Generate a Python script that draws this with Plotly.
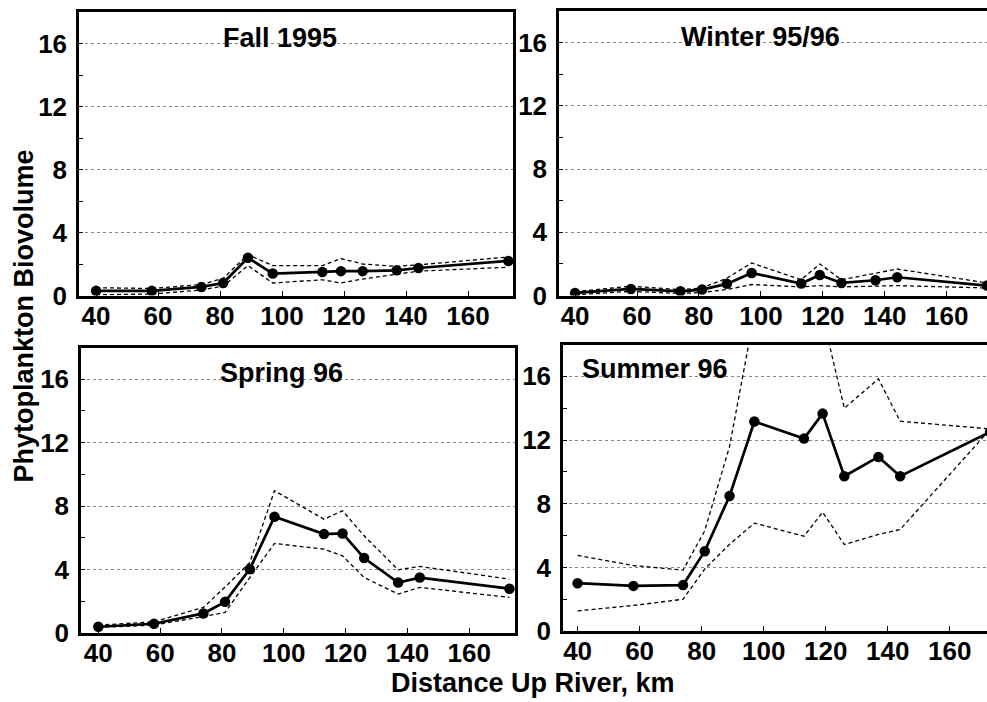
import plotly.graph_objects as go

# ---- data ----
stations = [40, 58, 74, 81, 89, 97, 113, 119, 126, 137, 144, 173]

fall_mean  = [0.30, 0.30, 0.55, 0.80, 2.40, 1.40, 1.50, 1.55, 1.55, 1.60, 1.75, 2.20]
fall_upper = [0.50, 0.45, 0.70, 1.10, 2.60, 1.90, 1.90, 2.35, 2.00, 1.85, 1.95, 2.45]
fall_lower = [0.05, 0.10, 0.35, 0.60, 1.90, 0.80, 1.00, 0.80, 1.05, 1.35, 1.55, 1.80]

winter_mean  = [0.17, 0.42, 0.27, 0.38, 0.74, 1.43, 0.76, 1.30, 0.80, 0.97, 1.16, 0.63]
winter_upper = [0.25, 0.59, 0.38, 0.48, 1.10, 2.06, 1.00, 2.00, 1.00, 1.39, 1.68, 0.80]
winter_lower = [0.05, 0.27, 0.13, 0.20, 0.38, 0.70, 0.55, 0.63, 0.55, 0.59, 0.63, 0.48]

spring_mean  = [0.40, 0.59, 1.24, 1.97, 4.03, 7.33, 6.24, 6.28, 4.73, 3.19, 3.50, 2.80]
spring_upper = [0.50, 0.71, 1.62, 2.90, 4.45, 8.97, 7.18, 7.71, 6.13, 3.99, 4.20, 3.40]
spring_lower = [0.36, 0.50, 1.05, 1.30, 3.50, 5.65, 5.29, 4.87, 3.50, 2.46, 2.88, 2.25]

summer_mean  = [3.01, 2.84, 2.89, 5.02, 8.49, 13.16, 12.09, 13.66, 9.73, 10.94, 9.73, 12.51]
summer_upper = [4.75, 4.12, 3.83, 6.30, 11.60, 19.90, 19.60, 19.80, 14.00, 15.84, 13.18, 12.70]
summer_lower = [1.27, 1.61, 2.00, 3.90, 5.45, 6.78, 5.96, 7.47, 5.44, 6.07, 6.38, 12.66]

titles = ["Fall 1995", "Winter 95/96", "Spring 96", "Summer 96"]
x_tick_vals = [40, 60, 80, 100, 120, 140, 160]
y_tick_vals = [0, 4, 8, 12, 16]

W = 987
H_REF = 702          # reference picture height (targets measured in it)
H = 716              # figure height
FONT = "Liberation Sans, Arial, Helvetica, sans-serif"

def px(x):
    return x / W

def py(y):
    return 1 - y / H_REF

panels = [
    ((fall_mean, fall_upper, fall_lower), (79, 513), (12, 296), (34.5, 174.5), (280, 38), True),
    ((winter_mean, winter_upper, winter_lower), (559, 987), (11, 296), (34.8, 173.0), (760, 37), False),
    ((spring_mean, spring_upper, spring_lower), (81, 515), (348, 634), (34.4, 174.8), (281, 374), True),
    ((summer_mean, summer_upper, summer_lower), (563, 987), (345, 632), (35.3, 172.0), (655, 370), False),
]

fig = go.Figure()
annotations = []
layout_axes = {}

for i, (series, xd, yd, xr, tpos, left) in enumerate(panels):
    n = "" if i == 0 else str(i + 1)
    xa, ya = "x" + n, "y" + n
    mean, upper, lower = series
    for s in (upper, lower):
        fig.add_trace(go.Scatter(x=stations, y=s, mode="lines", xaxis=xa, yaxis=ya,
                                 line=dict(color="black", width=1.3, dash="4px,3px"),
                                 showlegend=False, hoverinfo="skip"))
    fig.add_trace(go.Scatter(x=stations, y=mean, mode="lines+markers", xaxis=xa, yaxis=ya,
                             line=dict(color="black", width=2.7),
                             marker=dict(color="black", size=10.5),
                             showlegend=False))
    layout_axes["xaxis" + n] = dict(
        domain=[px(xd[0]), px(xd[1])], range=list(xr), anchor=ya,
        tickmode="array", tickvals=x_tick_vals, ticktext=[str(v) for v in x_tick_vals],
        ticks="inside", ticklen=5, tickwidth=1.2, tickcolor="black",
        showline=True, linecolor="black", linewidth=2.5, mirror=True,
        showgrid=False, zeroline=False, ticklabelstandoff=-5,
        tickfont=dict(family=FONT, size=26, color="black", weight="bold"),
    )
    layout_axes["yaxis" + n] = dict(
        domain=[py(yd[1]), py(yd[0])], range=[0, 18], anchor=xa,
        tickmode="array", tickvals=y_tick_vals, ticktext=[str(v) for v in y_tick_vals],
        ticks="inside", ticklen=4, tickwidth=1, tickcolor="black",
        minor=dict(tickvals=[2, 6, 10, 14], ticks="inside", ticklen=4, tickcolor="black", showgrid=False),
        showline=True, linecolor="black", linewidth=2.5, mirror=left,
        showgrid=True, gridcolor="#888888", griddash="dot", gridwidth=1,
        zeroline=False, ticklabelstandoff=4,
        tickfont=dict(family=FONT, size=26, color="black", weight="bold"),
    )
    annotations.append(dict(text=titles[i], xref="paper", yref="paper",
                            x=px(tpos[0]), y=py(tpos[1]), xanchor="center", yanchor="middle",
                            showarrow=False,
                            font=dict(family=FONT, size=27, color="black", weight="bold")))

annotations.append(dict(text="Distance Up River, km", xref="paper", yref="paper",
                        x=px(533), y=py(684), xanchor="center", yanchor="middle", showarrow=False,
                        font=dict(family=FONT, size=27, color="black", weight="bold")))
annotations.append(dict(text="Phytoplankton Biovolume", xref="paper", yref="paper",
                        x=px(24), y=py(317), xanchor="center", yanchor="middle", showarrow=False,
                        textangle=-90,
                        font=dict(family=FONT, size=27, color="black", weight="bold")))

fig.update_layout(width=W, height=H, autosize=False, margin=dict(l=0, r=0, t=0, b=0, pad=0),
                  paper_bgcolor="white", plot_bgcolor="white",
                  annotations=annotations, **layout_axes)

fig.write_html("out.html", config={"responsive": False})
